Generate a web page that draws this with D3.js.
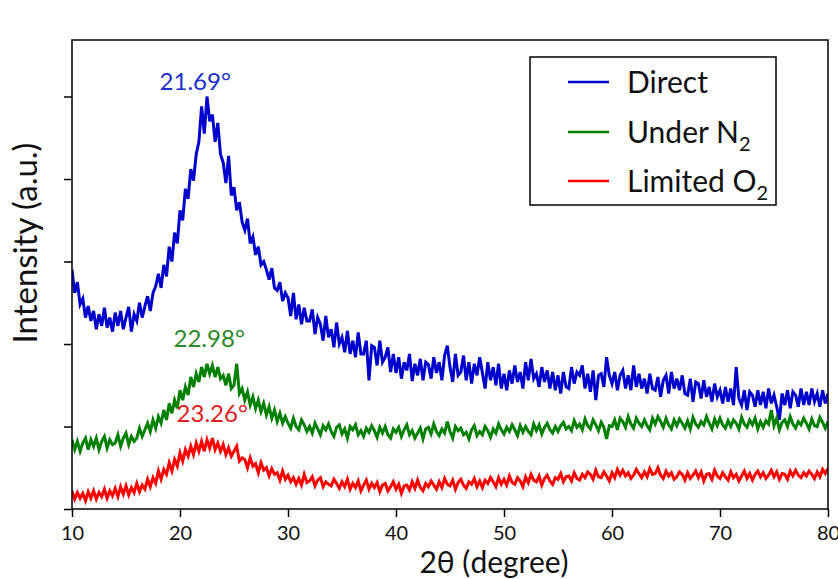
<!DOCTYPE html>
<html><head><meta charset="utf-8">
<script src="https://cdn.jsdelivr.net/npm/d3@7"></script>
<style>body{margin:0;background:#fff}svg{display:block}text{font-family:Lato,"Open Sans",sans-serif}</style>
</head><body><svg id="c" width="838" height="579"></svg>
<script>
// 2θ grid: 10° to 80°, step 0.25°
const angleStart = 10, angleEnd = 80, angleStep = 0.25;
const xTicks = [10, 20, 30, 40, 50, 60, 70, 80];
const yTicks = [0, 100, 200, 300, 400, 500];
const seriesNames = ["Direct", "Under N2", "Limited O2"];
const seriesColors = ["#0000CC", "#008000", "#FF0000"];
const labelColors = ["#1A2ECC", "#2A8A2A", "#E02020"];

const direct = [
290,262,275,248, 255,232,246,228, 240,218,236,222, 244,220,232,215, 238,222,240,218,
232,245,215,236, 228,250,232,246, 258,240,262,270, 285,268,296,282, 318,300,335,322,
362,350,388,376, 412,398,430,445, 488,455,500,470, 478,445,468,430, 420,395,428,380,
390,362,372,348, 338,352,322,330, 308,318,296,300, 290,278,292,268, 265,275,252,262,
256,234,262,230, 248,224,244,228, 228,242,212,232, 224,204,234,208, 218,196,226,200,
208,190,216,188, 204,184,214,188, 188,204,156,198, 196,174,204,178, 184,196,166,188,
165,184,158,178, 168,188,155,176, 162,182,156,178, 175,158,184,165, 178,156,186,198,
172,154,188,162, 166,186,156,178, 152,176,162,184, 165,146,178,156, 172,150,176,146,
164,144,168,152, 174,154,166,146, 178,156,182,158, 164,148,172,154, 168,146,166,144,
162,140,166,148, 146,172,152,166, 162,174,146,164, 142,168,132,162, 164,148,184,162,
152,166,144,162, 168,146,162,144, 174,148,164,146, 158,140,164,146, 144,160,136,156,
162,140,166,146, 158,144,162,140, 138,158,130,154, 152,134,156,136, 148,130,152,136,
144,128,148,130, 146,126,172,134, 126,144,120,142, 138,124,144,126, 142,122,146,128,
138,124,108,140, 126,144,122,142, 138,124,146,126, 142,126,146,130, 140,124,144,128,
140];

const underN2 = [
84,72,82,70, 80,86,72,84, 76,86,72,82, 88,74,84,78, 80,90,76,86,
92,78,88,82, 86,98,88,96, 104,94,108,98, 112,104,120,108, 128,116,132,122,
144,132,148,138, 160,148,164,154, 172,160,176,164, 174,160,172,158, 162,150,164,146,
150,176,140,146, 132,142,126,136, 122,132,118,128, 114,124,110,120, 106,116,104,112,
104,98,110,100, 96,108,102,94, 100,92,104,97, 90,101,96,103, 94,88,99,102,
91,97,86,100, 96,102,90,95, 88,98,93,101, 95,87,99,92, 100,90,86,97,
93,99,88,96, 102,90,95,86, 92,98,85,97, 99,91,103,94, 89,97,92,106,
94,86,100,95, 98,90,93,85, 96,101,89,94, 90,100,95,87, 97,92,103,96,
91,99,94,102, 96,89,101,93, 100,94,90,103, 95,102,91,99, 104,96,92,100,
94,101,105,97, 100,95,107,99, 103,96,109,101, 97,108,102,95, 105,99,85,101,
100,108,96,110, 106,99,112,103, 98,110,104,100, 108,101,96,110, 103,112,106,99,
110,102,97,108, 101,109,104,98, 107,97,111,103, 99,106,102,112, 104,97,109,101,
110,102,98,107, 100,108,104,97, 111,103,99,108, 102,110,97,106, 99,107,103,120,
101,110,96,105, 108,100,112,103, 98,106,102,110, 104,97,109,101, 100,111,105,98,
106];

const limitedO2 = [
22,12,20,13, 19,10,21,13, 22,12,20,15, 24,13,22,16, 25,15,27,18,
28,17,26,20, 31,21,29,24, 36,27,38,31, 46,36,48,42, 56,46,60,52,
68,58,72,64, 76,66,80,70, 82,70,84,74, 86,72,80,70, 78,66,74,64,
70,76,58,62, 60,50,62,52, 55,44,56,47, 50,40,49,42, 44,35,46,36,
41,33,38,30, 37,29,42,32, 34,39,28,35, 38,27,33,30, 28,36,31,25,
33,27,36,24, 31,26,34,22, 29,35,24,31, 26,32,21,29, 31,22,27,33,
24,30,19,28, 29,23,33,25, 35,26,22,31, 27,34,29,24, 33,26,37,30,
28,35,24,32, 36,29,25,33, 30,37,27,34, 26,35,31,38, 33,27,38,30,
36,29,40,32, 30,38,34,27, 39,32,42,35, 33,40,29,37, 41,34,30,38,
36,43,33,39, 40,34,44,37, 35,42,38,45, 42,36,47,39, 38,45,40,34,
44,38,48,41, 47,40,44,37, 41,48,43,38, 45,39,49,42, 43,50,41,37,
46,40,44,36, 39,45,42,35, 44,37,41,46, 38,45,34,42, 43,36,47,40,
37,44,39,35, 45,38,42,34, 40,46,37,43, 35,42,46,39, 44,37,41,47,
39,45,36,43, 42,36,46,40, 47,41,38,44, 40,46,42,37, 45,39,48,43,
49];

const peakLabels = ["21.69°", "22.98°", "23.26°"];
const peakAngles = [21.69, 22.98, 23.26];
const peakLabelLevels = [508, 196, 106];

const series = [direct, underN2, limitedO2];

const M = {left: 72, right: 828, top: 40, bottom: 509};
const x = d3.scaleLinear().domain([angleStart, angleEnd]).range([M.left, M.right]);
const y = d3.scaleLinear().domain([0, 568.5]).range([M.bottom, M.top]);

const svg = d3.select("#c");

const line = d3.line()
  .x((d, i) => x(angleStart + i * angleStep))
  .y(d => y(d));

svg.append("defs").append("clipPath").attr("id", "clip")
  .append("rect").attr("x", M.left).attr("y", M.top)
  .attr("width", M.right - M.left).attr("height", M.bottom - M.top);

const g = svg.append("g").attr("clip-path", "url(#clip)");
series.forEach((s, k) => {
  g.append("path").datum(s)
    .attr("d", line)
    .attr("fill", "none")
    .attr("stroke", seriesColors[k])
    .attr("stroke-width", 3)
    .attr("stroke-linejoin", "miter");
});

// axes
const xAxis = svg.append("g").attr("transform", `translate(0,${M.bottom})`)
  .call(d3.axisBottom(x).tickValues(xTicks).tickSize(8).tickPadding(9).tickFormat(d3.format("d")));
xAxis.select(".domain").remove();
xAxis.selectAll("line").attr("stroke", "#000").attr("stroke-width", 1.5);
xAxis.selectAll("text").attr("font-size", 20).attr("fill", "#111").attr("font-family", "Lato");

const yAxis = svg.append("g").attr("transform", `translate(${M.left},0)`)
  .call(d3.axisLeft(y).tickValues(yTicks).tickSize(8).tickFormat(""));
yAxis.select(".domain").remove();
yAxis.selectAll("line").attr("stroke", "#000").attr("stroke-width", 1.5);

svg.append("rect").attr("x", M.left).attr("y", M.top)
  .attr("width", M.right - M.left).attr("height", M.bottom - M.top)
  .attr("fill", "none").attr("stroke", "#000").attr("stroke-width", 1.5);

// axis titles
svg.append("text").attr("x", 494).attr("y", 573).attr("text-anchor", "middle")
  .attr("font-size", 30).attr("fill", "#111").text("2θ (degree)");

svg.append("text").attr("transform", "translate(37,243) rotate(-90)")
  .attr("text-anchor", "middle").attr("font-size", 33).attr("fill", "#111")
  .text("Intensity (a.u.)");

// peak labels
peakLabels.forEach((t, k) => {
  svg.append("text").attr("x", x(peakAngles[k]) - 3).attr("y", y(peakLabelLevels[k]))
    .attr("text-anchor", "middle").attr("font-size", 24).attr("fill", labelColors[k])
    .text(t);
});

// legend
const lg = svg.append("g");
lg.append("rect").attr("x", 530).attr("y", 57).attr("width", 246).attr("height", 148)
  .attr("fill", "#fff").attr("stroke", "#000").attr("stroke-width", 1.5);
const legendY = [82, 132, 181];
seriesNames.forEach((name, k) => {
  lg.append("line").attr("x1", 568).attr("x2", 609).attr("y1", legendY[k]).attr("y2", legendY[k])
    .attr("stroke", seriesColors[k]).attr("stroke-width", 2.6);
  const t = lg.append("text").attr("x", 627).attr("y", legendY[k] + 11)
    .attr("font-size", 30).attr("fill", "#111");
  const m = name.match(/^(.*?)(\d)$/);
  if (m) {
    t.append("tspan").text(m[1]);
    t.append("tspan").attr("font-size", 20).attr("dy", 8).text(m[2]);
  } else {
    t.text(name);
  }
});
</script></body></html>
